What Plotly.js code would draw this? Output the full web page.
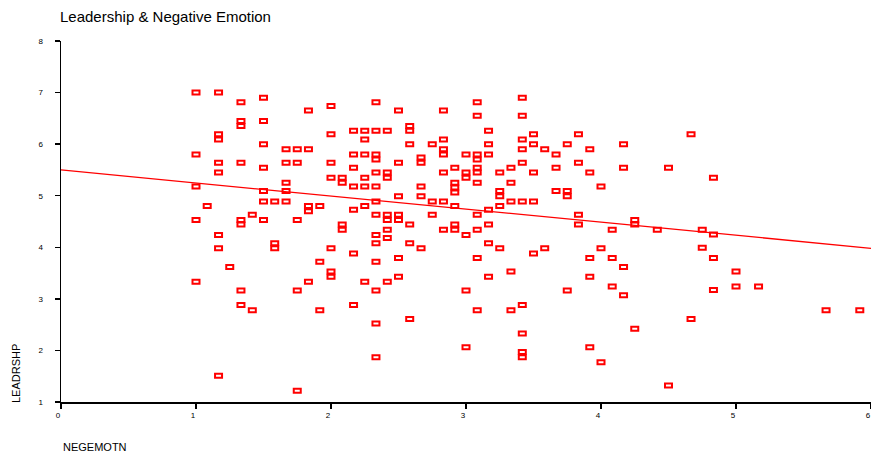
<!DOCTYPE html>
<html>
<head>
<meta charset="utf-8">
<script src="https://cdn.plot.ly/plotly-3.0.1.min.js"></script>
<style>
  html, body { margin: 0; padding: 0; background: #fff; }
  #chart { width: 871px; height: 458px; }
</style>
</head>
<body>
<div id="chart"></div>
<script>
// Negative emotion score (x) and leadership score (y) for each respondent
const negemotn = [
  1.0, 1.167, 1.333, 1.5, 1.833, 2.0, 1.333, 1.333, 1.5, 1.167,
  1.167, 2.0, 2.167, 1.5, 1.667, 1.75, 1.833, 1.0, 2.167, 1.167,
  1.333, 1.667, 1.75, 2.0, 1.5, 2.167, 1.167, 2.0, 2.083, 2.083,
  1.0, 2.167, 1.667, 1.667, 1.5, 1.5, 1.583, 1.667, 1.083, 1.833,
  1.833, 1.917, 2.167, 1.0, 1.333, 1.333, 1.417, 1.5, 1.75, 2.083,
  2.083, 1.167, 1.167, 1.583, 1.583, 2.0, 2.167, 1.25, 1.917, 2.0,
  2.0, 1.0, 1.333, 1.833, 1.75, 1.333, 1.417, 1.917, 2.167, 1.167,
  1.75,
  2.333, 2.5, 2.833, 3.083, 3.417, 3.083, 3.417, 2.25, 2.333, 2.417,
  2.583, 2.583, 3.167, 2.25, 2.583, 2.75, 2.833, 3.167, 3.417, 3.417,
  3.5, 2.833, 2.833, 2.25, 2.333, 2.333, 3.0, 3.083, 3.083, 3.167,
  2.5, 2.667, 2.667, 3.417, 2.833, 2.917, 3.0, 3.0, 3.083, 3.083,
  3.25, 3.333, 2.333, 2.417, 2.417, 2.25, 2.25, 2.333, 2.667, 2.917,
  2.917, 2.917, 3.083, 3.333, 3.25, 3.25, 2.5, 2.667, 2.333, 2.75,
  2.833, 3.25, 3.333, 3.417, 2.25, 2.917, 3.167, 2.333, 2.417, 2.417,
  2.5, 2.5, 2.75, 3.083, 2.583, 2.417, 2.833, 2.917, 2.917, 3.083,
  3.167, 2.333, 2.417, 3.0,
  2.333, 2.583, 2.667, 3.167, 3.25, 2.333, 2.5, 3.083, 3.333, 2.25,
  2.417, 2.5, 2.333, 3.167, 3.0, 3.083, 3.333, 3.417, 2.583, 2.333,
  3.417, 3.0, 3.417, 3.417, 2.333,
  3.5, 3.833, 4.667, 3.75, 4.167, 3.583, 3.917, 3.667, 3.833, 3.5,
  3.667, 3.917, 4.167, 4.5, 4.0, 3.667, 3.75, 3.75, 3.5, 3.833,
  3.833, 4.25, 4.25, 4.083, 4.417,
  3.5, 3.583, 4.0, 3.917, 4.083, 4.167, 3.917, 3.75, 4.083, 4.167,
  4.667, 4.25, 3.917, 4.0, 4.5,
  4.833, 4.75, 4.833, 4.75, 4.833, 5.0, 5.0, 5.167, 4.833, 5.667,
  5.917
];
const leadrshp = [
  7.0, 7.0, 6.81, 6.9, 6.65, 6.74, 6.45, 6.35, 6.45, 6.19,
  6.09, 6.19, 6.26, 6.0, 5.9, 5.9, 5.9, 5.8, 5.8, 5.64,
  5.64, 5.64, 5.64, 5.64, 5.54, 5.54, 5.45, 5.35, 5.35, 5.25,
  5.18, 5.18, 5.25, 5.09, 5.09, 4.89, 4.89, 4.89, 4.8, 4.8,
  4.7, 4.8, 4.73, 4.53, 4.53, 4.44, 4.63, 4.53, 4.53, 4.44,
  4.34, 4.24, 3.98, 4.08, 3.98, 3.98, 3.88, 3.62, 3.72, 3.53,
  3.43, 3.33, 3.16, 3.33, 3.16, 2.88, 2.78, 2.78, 2.88, 1.51,
  1.22,
  6.81, 6.65, 6.65, 6.81, 6.9, 6.55, 6.55, 6.26, 6.26, 6.26,
  6.35, 6.26, 6.26, 6.09, 6.0, 6.0, 6.09, 6.0, 6.09, 5.9,
  6.19, 5.9, 5.8, 5.8, 5.8, 5.7, 5.8, 5.8, 5.7, 5.8,
  5.64, 5.74, 5.64, 5.64, 5.45, 5.54, 5.45, 5.35, 5.54, 5.45,
  5.45, 5.54, 5.45, 5.45, 5.35, 5.35, 5.18, 5.18, 5.18, 5.25,
  5.16, 5.06, 5.25, 5.25, 5.09, 4.99, 4.99, 4.99, 4.89, 4.89,
  4.89, 4.8, 4.89, 4.89, 4.8, 4.8, 4.73, 4.63, 4.63, 4.53,
  4.63, 4.53, 4.63, 4.63, 4.44, 4.34, 4.34, 4.44, 4.34, 4.34,
  4.44, 4.24, 4.18, 4.24,
  4.08, 4.08, 3.98, 4.08, 3.98, 3.72, 3.79, 3.79, 3.53, 3.33,
  3.33, 3.43, 3.16, 3.43, 3.16, 2.78, 2.78, 2.88, 2.61, 2.52,
  2.33, 2.06, 1.97, 1.87, 1.87,
  6.0, 6.19, 6.19, 6.0, 6.0, 5.9, 5.9, 5.8, 5.64, 5.45,
  5.54, 5.45, 5.54, 5.54, 5.18, 5.09, 5.09, 4.99, 4.89, 4.63,
  4.44, 4.53, 4.44, 4.34, 4.34,
  3.88, 3.98, 3.98, 3.79, 3.79, 3.62, 3.43, 3.16, 3.24, 3.07,
  2.61, 2.42, 2.06, 1.77, 1.32,
  5.35, 4.34, 4.25, 3.99, 3.79, 3.53, 3.24, 3.24, 3.17, 2.78,
  2.78
];

// Fitted regression line, endpoints across the x range
const fitLineX = [0, 6];
const fitLineY = [5.50, 3.98];

// Axis ticks
const xTicks = [0, 1, 2, 3, 4, 5, 6];
const yTicks = [1, 2, 3, 4, 5, 6, 7, 8];

const RED = '#ff0000';
const FONT = '"Liberation Sans", Arial, Helvetica, sans-serif';

const traces = [
  {
    type: 'scatter',
    mode: 'lines',
    x: fitLineX,
    y: fitLineY,
    line: { color: RED, width: 1.3 },
    hoverinfo: 'skip',
    showlegend: false
  },
  {
    type: 'scatter',
    mode: 'markers',
    x: negemotn,
    y: leadrshp,
    marker: { symbol: 'square-open', size: 7, color: RED, line: { color: RED, width: 2 } },
    showlegend: false
  }
];

const axisCommon = {
  showline: true,
  linecolor: '#000',
  linewidth: 1.5,
  ticks: 'outside',
  ticklen: 5,
  tickwidth: 1.5,
  tickcolor: '#000',
  showgrid: false,
  zeroline: false,
  automargin: false,
  tickfont: { family: FONT, size: 8, color: '#000' },
  tickmode: 'array'
};

const layout = {
  width: 871,
  height: 458,
  margin: { l: 61, r: 0, t: 41, b: 56 },
  paper_bgcolor: '#fff',
  plot_bgcolor: '#fff',
  font: { family: FONT, color: '#000' },
  title: {
    text: 'Leadership & Negative Emotion',
    font: { family: FONT, size: 15, color: '#000' },
    xref: 'container', yref: 'container',
    x: 60 / 871, xanchor: 'left',
    y: 1 - 16.5 / 458, yanchor: 'middle'
  },
  xaxis: Object.assign({}, axisCommon, {
    range: [0, 6],
    tickvals: xTicks,
    ticktext: xTicks.map(String),
    ticklabelshift: -3
  }),
  yaxis: Object.assign({}, axisCommon, {
    range: [1, 8],
    tickvals: yTicks,
    ticktext: yTicks.map(String),
    ticklabelstandoff: 10
  }),
  annotations: [
    {
      text: 'NEGEMOTN', showarrow: false,
      xref: 'paper', yref: 'paper',
      x: 0, xanchor: 'left',
      y: (402 - 447) / 361, yanchor: 'middle',
      font: { family: FONT, size: 11, color: '#000' }
    },
    {
      text: 'LEADRSHP', showarrow: false, textangle: -90,
      xref: 'paper', yref: 'paper',
      x: (16 - 61) / 810, xanchor: 'center',
      y: (402 - 374) / 361, yanchor: 'middle',
      font: { family: FONT, size: 11, color: '#000' }
    }
  ]
};

const gd = document.getElementById('chart');
Plotly.newPlot(gd, traces, layout, { displayModeBar: false, staticPlot: true }).then(function () {
  // Draw the markers as small flat rectangles instead of squares
  gd.querySelectorAll('.scatterlayer path.point').forEach(function (p) {
    p.setAttribute('d', 'M3.5,2H-3.5V-2H3.5Z');
  });
});
</script>
</body>
</html>
